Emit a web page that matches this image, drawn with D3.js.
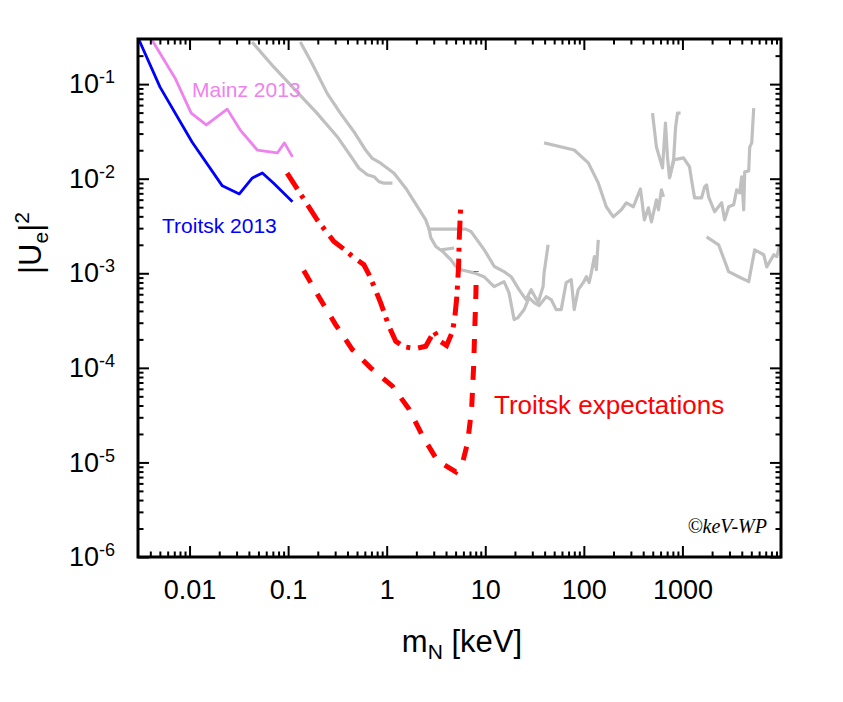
<!DOCTYPE html>
<html>
<head>
<meta charset="utf-8">
<script src="https://cdn.jsdelivr.net/npm/d3@7"></script>
<style>
  body { margin: 0; background: #fff; }
  svg { display: block; font-family: "Liberation Sans", Arial, Helvetica, sans-serif; }
</style>
</head>
<body>
<svg id="chart" width="843" height="702"></svg>
<script>
// axis ticks
const xMajor = [0.01, 0.1, 1, 10, 100, 1000];
const xMajorLabels = ["0.01", "0.1", "1", "10", "100", "1000"];
const yMajor = [1e-6, 1e-5, 1e-4, 1e-3, 1e-2, 1e-1];
const yExponents = ["-6", "-5", "-4", "-3", "-2", "-1"];

// measured limits, [m_N keV, |Ue|^2]
const troitsk2013 = [[0.003, 0.31], [0.00502, 0.093], [0.0106, 0.0244], [0.0215, 0.0084], [0.032, 0.0069],
  [0.0434, 0.0102], [0.0548, 0.0115], [0.0709, 0.009], [0.1107, 0.0057]];
const mainz2013 = [[0.0041, 0.3], [0.00714, 0.1156], [0.0104, 0.0494], [0.0148, 0.037], [0.0241, 0.0544],
  [0.0327, 0.0327], [0.0487, 0.0201], [0.0778, 0.0187], [0.0917, 0.0239], [0.1107, 0.017]];

// troitsk expectations
const troitskDashDot = [[0.0977, 0.01143], [0.139, 0.00647], [0.197, 0.00367], [0.291, 0.00217], [0.368, 0.0018],
  [0.448, 0.00151], [0.587, 0.00123], [0.676, 0.000928], [0.869, 0.000486], [1.055, 0.000275], [1.235, 0.000191],
  [1.50, 0.000167], [1.97, 0.00016], [2.49, 0.000169], [3.03, 0.000244], [3.48, 0.000191], [4.05, 0.000172],
  [4.66, 0.000244], [4.92, 0.000351], [5.15, 0.00057], [5.36, 0.00118], [5.44, 0.00226], [5.66, 0.00573]];
const troitskDashed = [[0.144, 0.00107], [0.213, 0.000527], [0.303, 0.000287], [0.448, 0.000156], [0.687, 0.0001],
  [1.143, 6.41e-5], [1.69, 3.64e-5], [2.31, 1.9e-5], [3.28, 1.04e-5], [5.03, 7.94e-6], [5.89, 9.97e-6],
  [6.62, 1.62e-5], [7.27, 3.64e-5], [7.62, 1.04e-4], [7.86, 2.99e-4], [8.04, 6.19e-4], [8.10, 1.05e-3]];

// other limits (grey)
const greyA = [[0.0431, 0.279], [0.0714, 0.152], [0.114, 0.0901], [0.197, 0.0491], [0.315, 0.0278], [0.448, 0.0164],
  [0.523, 0.0129], [0.636, 0.011], [0.743, 0.0105], [0.835, 0.00931], [0.939, 0.00897], [1.143, 0.00897]];
const greyB = [[0.133, 0.279], [0.175, 0.165], [0.249, 0.0798], [0.34, 0.0491], [0.465, 0.0314], [0.611, 0.0201],
  [0.715, 0.0164], [0.869, 0.01457], [1.187, 0.01143], [1.56, 0.00794], [2.05, 0.00508], [2.49, 0.00367],
  [2.69, 0.00293], [6.36, 0.00293], [7.15, 0.00277], [9.77, 0.00177], [12.35, 0.00118], [15.5, 0.00104],
  [18.3, 0.00092], [22.0, 0.000671], [25.9, 0.000527], [29.2, 0.000671], [34.4, 0.00049], [38.6, 0.000723],
  [39.5, 0.00101], [43.4, 0.002]];
const greyD = [[2.69, 0.00293], [2.80, 0.00238], [3.15, 0.00192], [3.69, 0.0017], [4.48, 0.00139], [5.03, 0.00118],
  [5.66, 0.00109], [7.73, 0.00101], [9.70, 0.00092], [12.3, 0.000723], [15.5, 0.000815], [17.4, 0.000624],
  [19.6, 0.000324], [21.5, 0.00034], [24.8, 0.000413], [27.8, 0.000553], [31.3, 0.00049], [35.2, 0.000455],
  [41.5, 0.000566], [46.6, 0.000527], [52.4, 0.000413], [58.9, 0.000413], [66.2, 0.000796], [74.5, 0.000855],
  [79.8, 0.000413], [87.7, 0.000671], [98.6, 0.000796], [106, 0.00092], [113, 0.000796], [119, 0.00101],
  [128, 0.0015], [134, 0.00109], [140, 0.00226]];
const greyStub = [[3.54, 0.00177], [4.84, 0.00185]];
const greyE = [[39.5, 0.0239], [79.8, 0.0201], [111, 0.0147], [140, 0.00903], [169, 0.00505], [199, 0.00395],
  [240, 0.00469], [270, 0.00556], [318, 0.00505], [375, 0.0078], [411, 0.00367], [452, 0.00492], [485, 0.0035],
  [545, 0.00597], [571, 0.00469], [613, 0.00762], [643, 0.00643]];
const greyF1 = [[497, 0.0494], [545, 0.0216], [628, 0.013], [673, 0.0388], [705, 0.017], [739, 0.0102],
  [811, 0.015], [851, 0.0343], [891, 0.0494], [957, 0.0494]];
const greyF2 = [[739, 0.0102], [811, 0.0158], [1026, 0.0166], [1181, 0.0133], [1238, 0.00971], [1328, 0.00627],
  [1564, 0.00627], [1679, 0.00819], [1759, 0.00861], [1843, 0.00643], [2121, 0.00447], [2500, 0.00556],
  [2682, 0.00367], [2944, 0.00505], [3311, 0.0053], [3551, 0.00762], [3809, 0.00708], [3991, 0.01045],
  [4185, 0.00469], [4285, 0.0118], [4703, 0.0121], [4817, 0.0216], [5047, 0.0239], [5288, 0.0558]];
const greyG = [[1759, 0.00243], [2329, 0.002], [2944, 0.00104], [3721, 0.00092], [4703, 0.000815], [5413, 0.00177],
  [6683, 0.00157], [7171, 0.00117], [8450, 0.00157], [9058, 0.0015], [9720, 0.002]];

const greyLines = [greyA, greyB, greyD, greyStub, greyE, greyF1, greyF2, greyG];

const svg = d3.select("#chart");
const box = { left: 138, right: 781, top: 39, bottom: 557 };

const x = d3.scaleLog().domain([0.003, 1e4]).range([box.left, box.right]);
const y = d3.scaleLog().domain([1e-6, 0.3]).range([box.bottom, box.top]);

// minor ticks 2..9 in every decade
function minorTicks(domain) {
  const out = [];
  for (let e = -7; e <= 4; e++) {
    for (let k = 2; k <= 9; k++) {
      const v = k * Math.pow(10, e);
      if (v > domain[0] * 1.0001 && v < domain[1] * 0.9999) out.push(v);
    }
  }
  return out;
}
const xMinor = minorTicks(x.domain());
const yMinor = minorTicks(y.domain());

svg.append("clipPath").attr("id", "plotClip")
  .append("rect").attr("x", box.left).attr("y", box.top)
  .attr("width", box.right - box.left).attr("height", box.bottom - box.top);

const plot = svg.append("g").attr("clip-path", "url(#plotClip)");
const line = d3.line().x(d => x(d[0])).y(d => y(d[1]));

plot.selectAll(".grey").data(greyLines).enter().append("path")
  .attr("class", "grey")
  .attr("d", line)
  .attr("fill", "none")
  .attr("stroke", "#c0c0c0")
  .attr("stroke-width", 3.2)
  .attr("stroke-linejoin", "round");

plot.append("path").attr("d", line(mainz2013))
  .attr("fill", "none").attr("stroke", "#ee82ee").attr("stroke-width", 2.8).attr("stroke-linejoin", "round");
plot.append("path").attr("d", line(troitsk2013))
  .attr("fill", "none").attr("stroke", "#0000ff").attr("stroke-width", 2.8).attr("stroke-linejoin", "round");

plot.append("path").attr("d", line(troitskDashDot))
  .attr("fill", "none").attr("stroke", "#ff0000").attr("stroke-width", 5)
  .attr("stroke-dasharray", "19,7,4,8");
plot.append("path").attr("d", line(troitskDashed))
  .attr("fill", "none").attr("stroke", "#ff0000").attr("stroke-width", 5)
  .attr("stroke-dasharray", "14,13");

// axes, ticks pointing inwards on all four sides
function drawAxis(axis, tx, ty) {
  const g = svg.append("g").attr("transform", `translate(${tx},${ty})`).call(axis);
  g.select(".domain").remove();
  g.selectAll(".tick line").attr("stroke", "#000").attr("stroke-width", 2);
  return g;
}

const xAxisBottom = drawAxis(d3.axisBottom(x).tickValues(xMajor).tickSize(-11).tickPadding(23)
  .tickFormat((d, i) => xMajorLabels[i]), 0, box.bottom);
xAxisBottom.selectAll("text").attr("font-size", 27).attr("fill", "#000")
  .attr("font-family", "'Liberation Sans', Arial, sans-serif");
drawAxis(d3.axisBottom(x).tickValues(xMinor).tickSize(-5.5).tickFormat(""), 0, box.bottom);
drawAxis(d3.axisTop(x).tickValues(xMajor).tickSize(-11).tickFormat(""), 0, box.top);
drawAxis(d3.axisTop(x).tickValues(xMinor).tickSize(-5.5).tickFormat(""), 0, box.top);

const yAxisLeft = drawAxis(d3.axisLeft(y).tickValues(yMajor).tickSize(-11).tickPadding(23).tickFormat(""), box.left, 0);
yAxisLeft.selectAll(".tick text").each(function(d, i) {
  const t = d3.select(this)
    .attr("font-size", 27).attr("fill", "#000")
    .attr("font-family", "'Liberation Sans', Arial, sans-serif");
  t.append("tspan").text("10");
  t.append("tspan").attr("font-size", 18).attr("dy", -10).text(yExponents[i]);
});
drawAxis(d3.axisLeft(y).tickValues(yMinor).tickSize(-5.5).tickFormat(""), box.left, 0);
drawAxis(d3.axisRight(y).tickValues(yMajor).tickSize(-11).tickFormat(""), box.right, 0);
drawAxis(d3.axisRight(y).tickValues(yMinor).tickSize(-5.5).tickFormat(""), box.right, 0);

// frame
svg.append("rect")
  .attr("x", box.left).attr("y", box.top)
  .attr("width", box.right - box.left).attr("height", box.bottom - box.top)
  .attr("fill", "none").attr("stroke", "#000").attr("stroke-width", 3);

// axis titles
const xTitle = svg.append("text")
  .attr("x", 462).attr("y", 652).attr("text-anchor", "middle")
  .attr("font-size", 31).attr("fill", "#000");
xTitle.append("tspan").text("m");
xTitle.append("tspan").attr("font-size", 21).attr("dy", 7).text("N");
xTitle.append("tspan").attr("dy", -7).text(" [keV]");

const yTitle = svg.append("text")
  .attr("transform", "translate(41,243) rotate(-90)")
  .attr("text-anchor", "middle")
  .attr("font-size", 31).attr("fill", "#000");
yTitle.append("tspan").text("|U");
yTitle.append("tspan").attr("font-size", 21).attr("dy", 7).text("e");
yTitle.append("tspan").attr("dy", -7).text("|");
yTitle.append("tspan").attr("font-size", 21).attr("dy", -12).text("2");

// curve labels
svg.append("text").attr("x", 192).attr("y", 97).attr("font-size", 21).attr("fill", "#ee82ee").text("Mainz 2013");
svg.append("text").attr("x", 162).attr("y", 233).attr("font-size", 21).attr("fill", "#0000ff").text("Troitsk 2013");
svg.append("text").attr("x", 494).attr("y", 414).attr("font-size", 26).attr("fill", "#ff0000").text("Troitsk expectations");
svg.append("text").attr("x", 767).attr("y", 533).attr("text-anchor", "end")
  .attr("font-size", 20).attr("font-style", "italic")
  .attr("font-family", "'Liberation Serif', 'DejaVu Serif', serif")
  .attr("fill", "#000").text("\u00A9keV-WP");
</script>
</body>
</html>
